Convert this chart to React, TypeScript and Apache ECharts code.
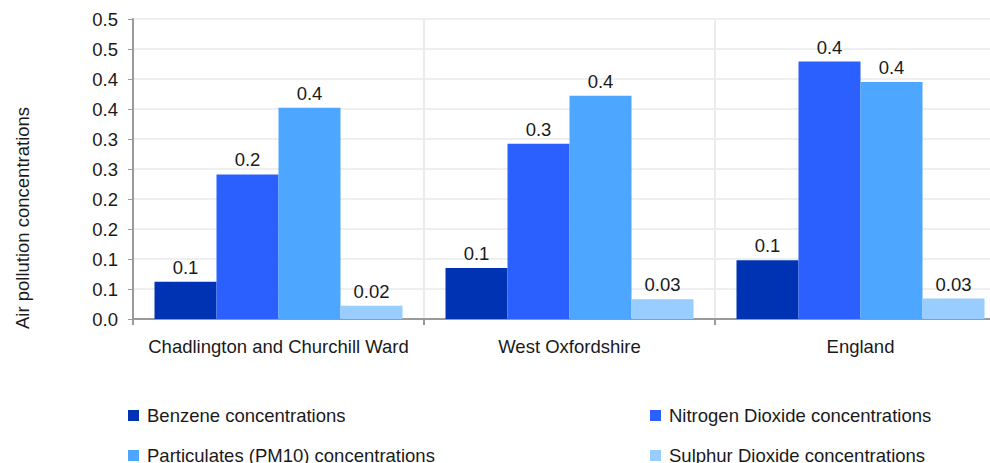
import React, { useEffect, useRef } from "react";
import * as echarts from "echarts";

const categories = ["Chadlington and Churchill Ward", "West Oxfordshire", "England"];
const seriesNames = [
  "Benzene concentrations",
  "Nitrogen Dioxide concentrations",
  "Particulates (PM10) concentrations",
  "Sulphur Dioxide concentrations",
];
const benzene = [0.062, 0.085, 0.098];
const nitrogenDioxide = [0.241, 0.292, 0.429];
const particulates = [0.352, 0.372, 0.395];
const sulphurDioxide = [0.022, 0.033, 0.034];
const seriesColors = ["#0032B4", "#2B60FF", "#4DA6FF", "#99CCFF"];
const yTickLabels = ["0.0", "0.1", "0.1", "0.2", "0.2", "0.3", "0.3", "0.4", "0.4", "0.5", "0.5"];

const FONT = "'Liberation Sans', Arial, sans-serif";
const TEXT = "#1a1a1a";
const FS = 18.5;

export default function App() {
  const ref = useRef<HTMLDivElement>(null);
  useEffect(() => {
    if (!ref.current) return;
    const chart = echarts.init(ref.current, undefined, { renderer: "svg" });
    const values = [benzene, nitrogenDioxide, particulates, sulphurDioxide];
    const legendPos = [
      { left: 128, top: 406 },
      { left: 650, top: 406 },
      { left: 128, top: 446 },
      { left: 650, top: 446 },
    ];
    chart.setOption({
      animation: false,
      textStyle: { fontFamily: FONT },
      grid: {
        left: 133,
        top: 19,
        height: 300,
        width: 873,
        containLabel: false,
        outerBoundsMode: "none",
      },
      legend: seriesNames.map((n, i) => ({
        data: [n],
        left: legendPos[i].left,
        top: legendPos[i].top,
        itemWidth: 11,
        itemHeight: 11,
        icon: "rect",
        padding: 0,
        textStyle: { fontSize: FS, color: TEXT, fontFamily: FONT, padding: [0, 0, 0, 3] },
      })),
      graphic: [
        {
          type: "text",
          x: 22,
          y: 218,
          rotation: Math.PI / 2,
          style: {
            text: "Air pollution concentrations",
            fontSize: FS,
            fontFamily: FONT,
            fill: TEXT,
            align: "center",
            verticalAlign: "middle",
          },
        },
      ],
      xAxis: {
        type: "category",
        data: categories,
        axisLine: { lineStyle: { color: "#9a9a9a", width: 2 } },
        axisTick: { show: true, length: 6, lineStyle: { color: "#9a9a9a", width: 2 } },
        axisLabel: { fontSize: FS, color: TEXT, margin: 18, fontFamily: FONT, interval: 0 },
        splitLine: { show: true, lineStyle: { color: "#ebebeb", width: 2 } },
      },
      yAxis: {
        type: "value",
        min: 0,
        max: 0.5,
        interval: 0.05,
        axisLine: { show: true, lineStyle: { color: "#9a9a9a", width: 2 } },
        axisTick: { show: true, length: 5, lineStyle: { color: "#9a9a9a", width: 1 } },
        axisLabel: {
          fontSize: FS,
          color: TEXT,
          margin: 15,
          fontFamily: FONT,
          formatter: (v: number) => yTickLabels[Math.round(v / 0.05)] ?? "",
        },
        splitLine: { show: true, lineStyle: { color: "#efefef", width: 2 } },
      },
      series: seriesNames.map((name, i) => ({
        name,
        type: "bar",
        data: values[i],
        barWidth: 62,
        barGap: "0%",
        itemStyle: { color: seriesColors[i] },
        label: {
          show: true,
          position: "top",
          distance: 5,
          fontSize: FS,
          color: TEXT,
          fontFamily: FONT,
          formatter: (p: any) => (p.value < 0.05 ? p.value.toFixed(2) : p.value.toFixed(1)),
        },
      })),
    });
    return () => chart.dispose();
  }, []);
  return (
    <div
      ref={ref}
      style={{ position: "absolute", left: 0, top: 0, width: 990, height: 463 }}
    />
  );
}
